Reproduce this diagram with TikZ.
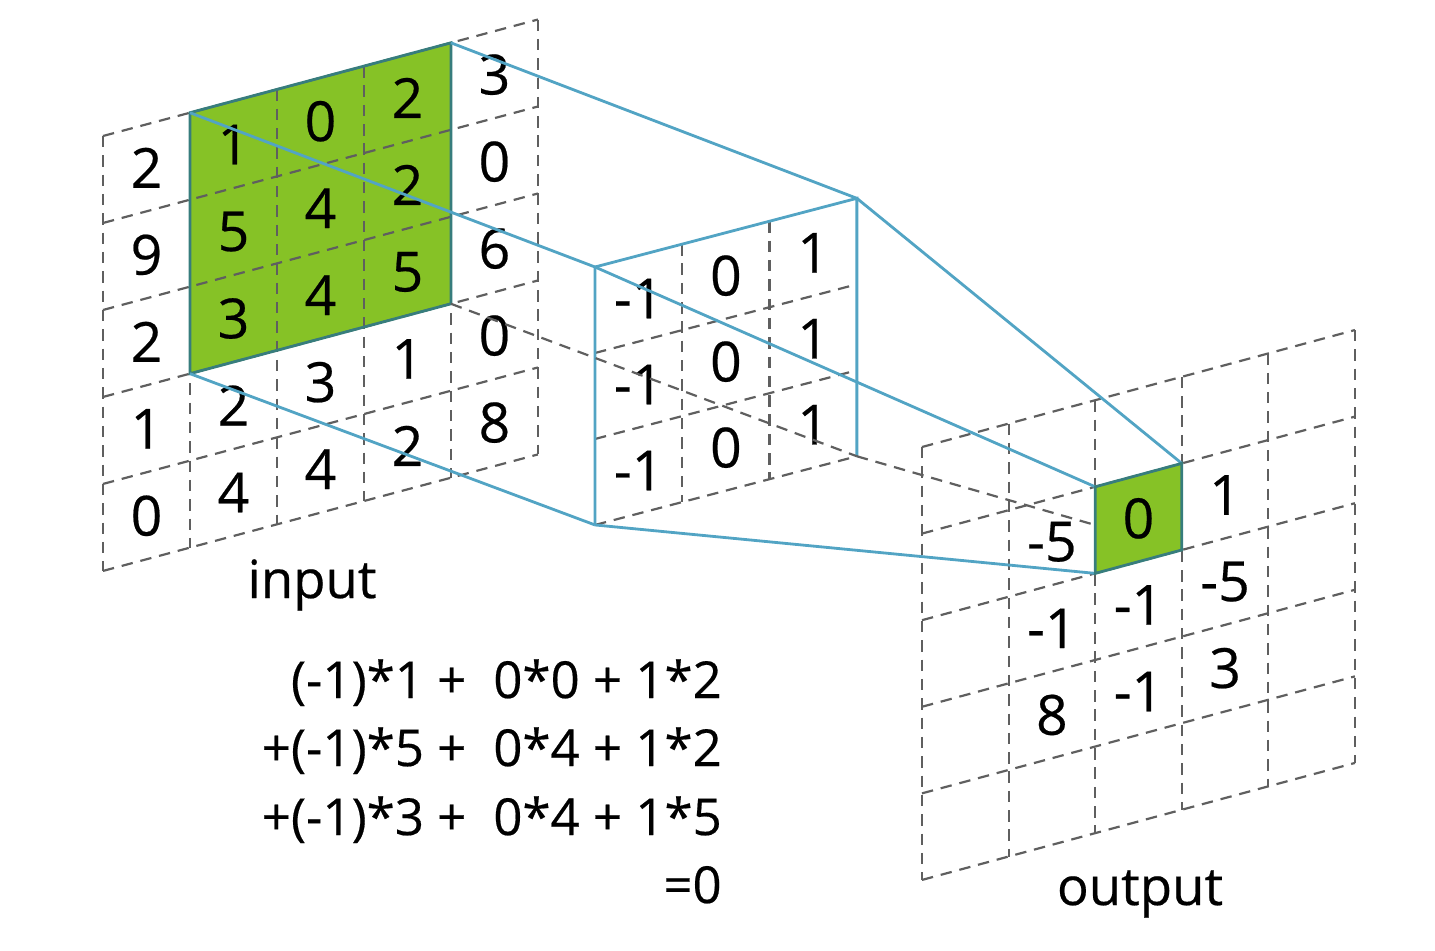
\documentclass[tikz,border=0pt]{standalone}
\usepackage{fontspec}
\setmainfont[FakeBold=0.4]{Open Sans}
\usetikzlibrary{positioning}
\definecolor{convgreen}{RGB}{134,194,38}
\definecolor{convteal}{RGB}{82,164,196}
\definecolor{convedge}{RGB}{55,125,125}
\definecolor{convgray}{RGB}{95,95,95}
\tikzset{
  gridline/.style={convgray, line width=1.25pt, dash pattern=on 6.5pt off 4.5pt},
  linkline/.style={convteal, line width=1.6pt},
  patchedge/.style={draw=convedge, line width=1.6pt},
  cellnum/.style={inner sep=0pt, font=\fontsize{31.5}{36}\selectfont},
  caption/.style={inner sep=0pt, font=\fontsize{30}{36}\selectfont},
  eqline/.style={inner sep=0pt, anchor=base east, font=\fontsize{29}{36}\selectfont}
}

\begin{document}
\begin{tikzpicture}[x=0.02cm, y=-0.02cm]
  \useasboundingbox (0,0) rectangle (1435,950);

  % input sheet
  \begin{scope}[shift={(103,136)}, x={(1.74cm,0.466cm)}, y={(0cm,-1.74cm)}]
    \fill[convgreen] (1,0) -- (4,0) -- (4,3) -- (1,3) -- cycle;
    \foreach \i in {0,...,5} {
      \draw[gridline] (\i,0) -- (\i,5);
      \draw[gridline] (0,\i) -- (5,\i);
    }
    \draw[patchedge] (1,0) coordinate (itl) -- (4,0) coordinate (itr)
      -- (4,3) coordinate (ibr) -- (1,3) coordinate (ibl) -- cycle;
    \foreach \r/\row in {0/{2,1,0,2,3},1/{9,5,4,2,0},2/{2,3,4,5,6},3/{1,2,3,1,0},4/{0,4,4,2,8}}
      \foreach \v [count=\c from 0] in \row
        \node[cellnum] (in-\r-\c) at (\c+0.5,\r+0.5) {\v};
  \end{scope}

  % kernel
  \begin{scope}[shift={(595,267)}, x={(1.746cm,0.458cm)}, y={(0cm,-1.72cm)}]
    \coordinate (ktl) at (0,0);
    \coordinate (ktr) at (3,0);
    \coordinate (kbr) at (3,3);
    \coordinate (kbl) at (0,3);
    \foreach \i in {1,2} {
      \draw[gridline] (\i,0) -- (\i,3);
      \draw[gridline] (0,\i) -- (3,\i);
    }
    \draw[gridline] (kbl) -- (kbr);
    \draw[linkline] (kbl) -- (ktl) -- (ktr) -- (kbr);
    \foreach \r in {0,1,2} {
      \node[cellnum] (k-\r-0) at (0.5,\r+0.5) {-1};
      \node[cellnum] (k-\r-1) at (1.5,\r+0.5) {0};
      \node[cellnum] (k-\r-2) at (2.5,\r+0.5) {1};
    }
  \end{scope}

  % output sheet
  \begin{scope}[shift={(922,447)}, x={(1.732cm,0.468cm)}, y={(0cm,-1.732cm)}]
    \foreach \i in {0,...,5} {
      \draw[gridline] (\i,0) -- (\i,5);
      \draw[gridline] (0,\i) -- (5,\i);
    }
    \coordinate (otl) at (2,1);
    \coordinate (otr) at (3,1);
    \coordinate (obr) at (3,2);
    \coordinate (obl) at (2,2);
  \end{scope}

  \draw[linkline] (itr) -- (ktr);
  \draw[linkline] (itl) -- (ktl);
  \draw[linkline] (ibl) -- (kbl);
  \draw[gridline] (ibr) -- (kbr);
  \draw[gridline] (kbr) -- (obr);
  \draw[linkline] (ktr) -- (otr);
  \draw[linkline] (ktl) -- (otl);
  \draw[linkline] (kbl) -- (obl);
  \draw[patchedge, fill=convgreen] (otl) -- (otr) -- (obr) -- (obl) -- cycle;

  \begin{scope}[shift={(922,447)}, x={(1.732cm,0.468cm)}, y={(0cm,-1.732cm)}]
    \foreach \r/\row in {1/{-5,0,1},2/{-1,-1,-5},3/{8,-1,3}}
      \foreach \v [count=\c from 1] in \row
        \node[cellnum] (out-\r-\c) at (\c+0.5,\r+0.5) {\v};
  \end{scope}

  \node[caption, anchor=base] (inlabel) at (312,598) {input};
  \node[caption, anchor=base] (outlabel) at (1140,905) {output};

  \node[eqline] (eq1) at (722,698) {(-1)*1 + \hspace{0.27em}0*0 + 1*2};
  \node[eqline] (eq2) at (722,766) {+(-1)*5 + \hspace{0.27em}0*4 + 1*2};
  \node[eqline] (eq3) at (722,835) {+(-1)*3 + \hspace{0.27em}0*4 + 1*5};
  \node[eqline] (eq4) at (722,903) {=0};
\end{tikzpicture}
\end{document}
